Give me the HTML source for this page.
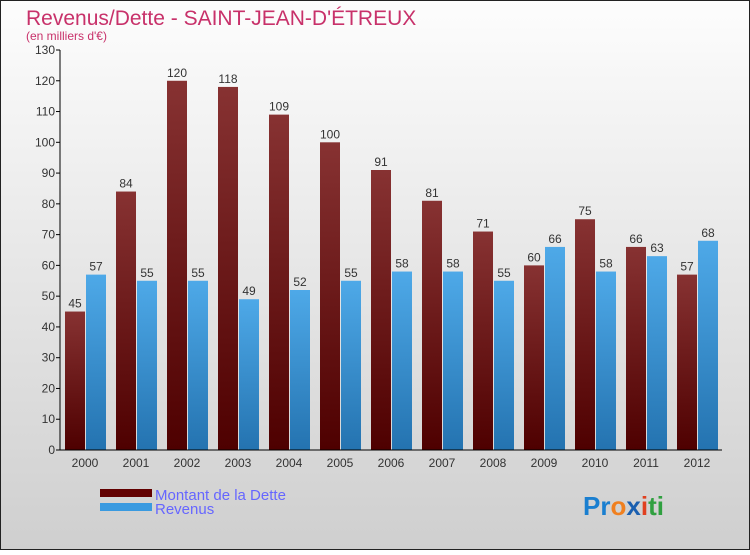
<!DOCTYPE html>
<html><head><meta charset="utf-8"><style>
body{margin:0}
#c{width:750px;height:550px;font-family:"Liberation Sans",sans-serif}
</style></head><body>
<div id="c">
<svg id="s" width="750" height="550" xmlns="http://www.w3.org/2000/svg">
<defs>
<linearGradient id="bg" x1="0" y1="0" x2="0" y2="1"><stop offset="0" stop-color="#fdfdfd"/><stop offset="1" stop-color="#cfcfcf"/></linearGradient>
<linearGradient id="gd" x1="0" y1="0" x2="0" y2="1"><stop offset="0" stop-color="#873232"/><stop offset="1" stop-color="#4e0000"/></linearGradient>
<linearGradient id="gr" x1="0" y1="0" x2="0" y2="1"><stop offset="0" stop-color="#4ea9e8"/><stop offset="1" stop-color="#2473b0"/></linearGradient>
</defs>
<rect x="0.5" y="0.5" width="749" height="549" fill="url(#bg)" stroke="#222"/>
<text x="26" y="25" font-size="21" fill="#c8316a">Revenus/Dette - SAINT-JEAN-D'ÉTREUX</text>
<text x="26" y="40" font-size="12" fill="#c8316a">(en milliers d'€)</text>
<g id="g"></g>
<rect x="100" y="489" width="52" height="8" fill="#620000"/>
<rect x="100" y="503" width="52" height="8" fill="#3a9ae0"/>
<text x="155" y="500" font-size="15" fill="#6666ff">Montant de la Dette</text>
<text x="155" y="514" font-size="15" fill="#6666ff">Revenus</text>
<text x="583" y="515" font-size="26" font-weight="bold"><tspan fill="#1a7fd0">Pr</tspan><tspan fill="#f08020">o</tspan><tspan fill="#1a5fb0">x</tspan><tspan fill="#e04020">i</tspan><tspan fill="#30a040">ti</tspan></text>
</svg></div>
<script>
const years=["2000","2001","2002","2003","2004","2005","2006","2007","2008","2009","2010","2011","2012"];
const dette=[45,84,120,118,109,100,91,81,71,60,75,66,57];
const revenus=[57,55,55,49,52,55,58,58,55,66,58,63,68];
const yTicks=[0,10,20,30,40,50,60,70,80,90,100,110,120,130];
const NS="http://www.w3.org/2000/svg";
const g=document.getElementById('g');
const x0=60,y0=450,yMax=130,plotH=400,step=51,first=85;
const y=v=>y0-v/yMax*plotH;
const xc=i=>first+i*step;
function mk(t,a,txt){const e=document.createElementNS(NS,t);for(const k in a)e.setAttribute(k,a[k]);if(txt!==undefined)e.textContent=txt;g.appendChild(e);return e;}
yTicks.forEach(t=>{
 const l=mk('line',{x1:x0-4,x2:x0,y1:y(t),y2:y(t),stroke:'#000'});
 
 
 const tx=mk('text',{x:x0-5,y:y(t)+4,'font-size':12,fill:'#333','text-anchor':'end'},String(t));
 
 
});
years.forEach((yr,i)=>{
 const c=xc(i);
 const b1=mk('rect',{x:c-20,y:y(dette[i]),width:20,height:y0-y(dette[i]),fill:'url(#gd)'});
 
 
 const b2=mk('rect',{x:c+1,y:y(revenus[i]),width:20,height:y0-y(revenus[i]),fill:'url(#gr)'});
 
 
 const v1=mk('text',{x:c-10,y:y(dette[i])-4,'font-size':12,fill:'#333','text-anchor':'middle'},String(dette[i]));
 
 
 const v2=mk('text',{x:c+11,y:y(revenus[i])-4,'font-size':12,fill:'#333','text-anchor':'middle'},String(revenus[i]));
 
 
 const xl=mk('text',{x:c,y:467,'font-size':12,fill:'#333','text-anchor':'middle'},yr);
 
 
});
const ya=mk('line',{x1:x0,x2:x0,y1:y(yMax),y2:y0,stroke:'#000'});


const xa=mk('line',{x1:x0-4,x2:722,y1:y0,y2:y0,stroke:'#000'});


</script>
</body></html>
